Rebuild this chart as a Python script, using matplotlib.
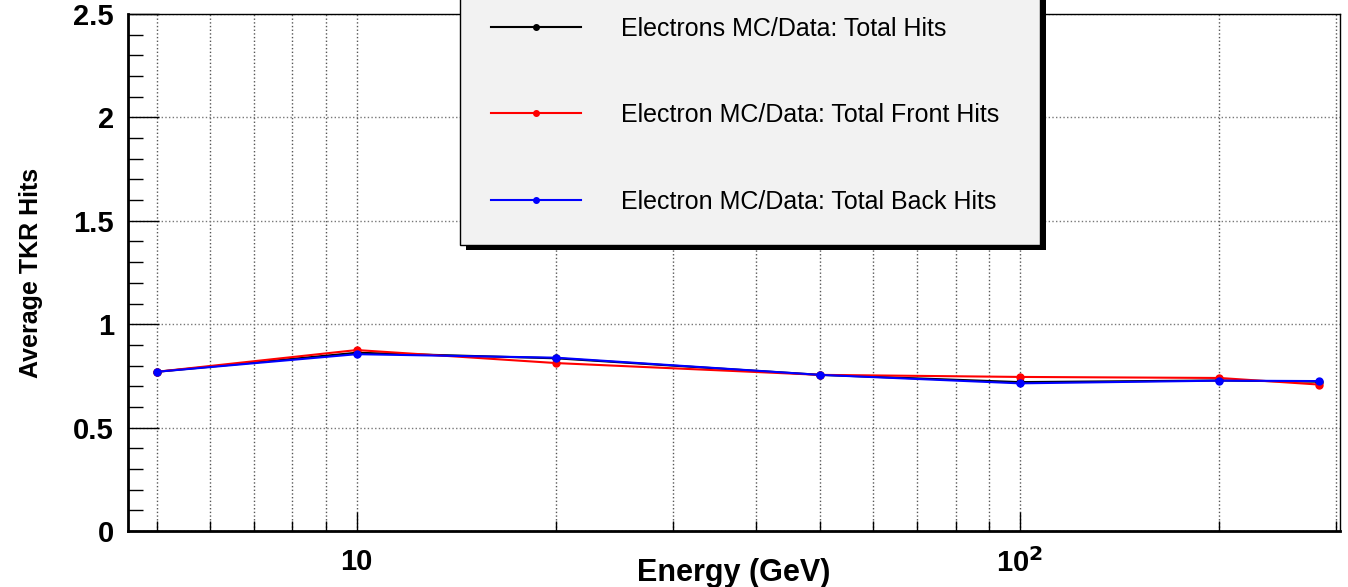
import matplotlib
matplotlib.use('Agg')
import matplotlib.pyplot as plt
from matplotlib.ticker import FixedLocator, NullFormatter, MultipleLocator, FuncFormatter
import matplotlib.patheffects as pe

plt.rcParams['font.family'] = ['Liberation Sans Narrow', 'Liberation Sans', 'DejaVu Sans']

energy = [5, 10, 20, 50, 100, 200, 283]
total_hits = [0.77, 0.862, 0.835, 0.755, 0.72, 0.728, 0.722]
front_hits = [0.77, 0.875, 0.812, 0.755, 0.745, 0.74, 0.708]
back_hits = [0.77, 0.855, 0.838, 0.755, 0.714, 0.727, 0.725]

labels = ['Electrons MC/Data: Total Hits',
          'Electron MC/Data: Total Front Hits',
          'Electron MC/Data: Total Back Hits']
colors = ['black', 'red', 'blue']

fig = plt.figure(figsize=(13.48, 5.87), dpi=100)
ax = fig.add_axes([128 / 1348, 56 / 587, 1212 / 1348, 517 / 587])

for y, c, lab in zip([total_hits, front_hits, back_hits], colors, labels):
    ax.plot(energy, y, color=c, lw=1.5, marker='o', ms=5, label=lab)

ax.set_xscale('log')
ax.set_xlim(4.52, 304)
ax.set_ylim(0, 2.5)

xt = [5, 6, 7, 8, 9, 20, 30, 40, 50, 60, 70, 80, 90, 200, 300]
ax.xaxis.set_major_locator(FixedLocator([10, 100]))
ax.xaxis.set_major_formatter(FuncFormatter(lambda v, p: '10' if v < 50 else '10$^{\\mathbf{2}}$'))
ax.xaxis.set_minor_locator(FixedLocator(xt))
ax.xaxis.set_minor_formatter(NullFormatter())
ax.yaxis.set_major_locator(MultipleLocator(0.5))
ax.yaxis.set_minor_locator(MultipleLocator(0.1))
ax.yaxis.set_major_formatter(FuncFormatter(lambda v, p: '%g' % round(v, 2)))

ax.tick_params(axis='both', which='both', direction='in')
ax.tick_params(axis='y', which='major', length=22, width=1)
ax.tick_params(axis='y', which='minor', length=11, width=1)
ax.tick_params(axis='x', which='major', length=14, width=1)
ax.tick_params(axis='x', which='minor', length=7, width=1)
ax.tick_params(labelsize=21)
for t in ax.get_xticklabels() + ax.get_yticklabels():
    t.set_fontweight('bold')
ax.tick_params(axis='x', pad=12)
ax.tick_params(axis='y', pad=10)

ax.grid(True, which='major', axis='y', ls=':', color='#777777', lw=1)
ax.grid(True, which='both', axis='x', ls=':', color='#555555', lw=1)

for s in ax.spines.values():
    s.set_linewidth(1)
ax.spines['left'].set_linewidth(2)
ax.spines['bottom'].set_linewidth(2)

ax.set_xlabel('Energy (GeV)', fontsize=22, fontweight='bold')
ax.xaxis.set_label_coords(0.5, -0.052)
ax.set_ylabel('Average TKR Hits', fontsize=18, fontweight='bold')
ax.yaxis.set_label_coords(-0.07, 0.5)

leg = ax.legend(loc='upper left', bbox_to_anchor=((460 - 128) / 1212, 0.5805, (1040 - 460) / 1212, 0.475),
                mode='expand', fontsize=18, frameon=True, fancybox=False,
                labelspacing=2.5, handlelength=3.6, borderpad=1.25, handletextpad=1.6,
                borderaxespad=0, markerscale=0.8)
frame = leg.get_frame()
frame.set_facecolor('#f2f2f2')
frame.set_edgecolor('black')
frame.set_alpha(1)
frame.set_linewidth(1)
frame.set_path_effects([pe.SimplePatchShadow(offset=(4, -4), shadow_rgbFace='black', alpha=1), pe.Normal()])

fig.savefig('out.png', dpi=100)
